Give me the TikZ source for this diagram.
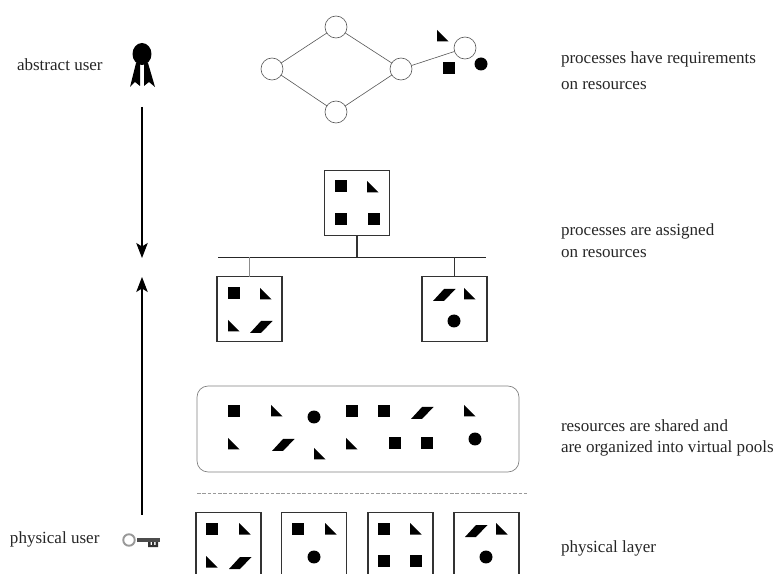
\documentclass[tikz,border=0pt]{standalone}
\usepackage{fontspec}
\usetikzlibrary{arrows.meta}
\setmainfont{Liberation Serif}
\tikzset{
    every node/.style={inner sep=0pt, outer sep=0pt},
    proc/.style={draw=black!65, fill=white, circle, minimum size=0.44cm, line width=0.35pt},
    res/.style={draw=black!80, fill=white, minimum size=1.3cm, line width=0.6pt},
    sq/.style={fill=black, minimum size=0.24cm},
    dot/.style={fill=black, circle, minimum size=0.26cm},
    lbl/.style={anchor=base west, font=\fontsize{9.7}{11}\selectfont, text=black!85},
    bigarrow/.style={-{Stealth[length=0.3cm, width=0.23cm, inset=0.07cm]}, line width=0.6pt},
    tri/.pic={\fill (0,0) -- (0,11.5) -- (11.5,11.5) -- cycle;},
    para/.pic={\fill (0,0) -- (11,-12) -- (22.5,-12) -- (11,0) -- cycle;}
}
\begin{document}
\begin{tikzpicture}[x=0.02cm, y=-0.02cm]
    \path[use as bounding box, clip] (0,0) rectangle (775,574);

    \node (abstract) [lbl] at (17, 71) {abstract user};
    \node (physical) [lbl] at (10, 543) {physical user};
    \node (req1) [lbl] at (561, 64) {processes have requirements};
    \node (req2) [lbl] at (561, 90) {on resources};
    \node (asg1) [lbl] at (561, 236) {processes are assigned};
    \node (asg2) [lbl] at (561, 258) {on resources};
    \node (pool1) [lbl] at (561, 432) {resources are shared and};
    \node (pool2) [lbl] at (561, 453) {are organized into virtual pools};
    \node (layer) [lbl] at (561, 552) {physical layer};

    % ribbon
    \coordinate (medal) at (142, 54);
    \fill (medal) ellipse [x radius=0.19cm, y radius=0.22cm];
    \fill (136,63) -- (130,87) -- (135,82) -- (140,86) -- (140,63) -- cycle;
    \fill (144,63) -- (144,86) -- (149,82) -- (155,87) -- (148,63) -- cycle;

    % key
    \node (ring) [circle, draw=black!40, line width=1.1pt, minimum size=0.23cm] at (129, 540) {};
    \fill[black!70] (137,538) rectangle (160,542);
    \fill[black!80] (148,542) -- (148,547) -- (158,547) -- (158,542) -- (155.5,542) -- (155.5,545)
        -- (154,545) -- (154,542) -- (152,542) -- (152,545) -- (150.5,545) -- (150.5,542) -- cycle;

    \coordinate (dtop) at (142, 107);
    \coordinate (dend) at (142, 258);
    \coordinate (ubot) at (142, 515);
    \coordinate (uend) at (142, 277);
    \draw[bigarrow] (dtop) -- (dend);
    \draw[bigarrow] (ubot) -- (uend);

    % process graph
    \node (pl) [proc] at (272, 69) {};
    \node (pt) [proc] at (336, 27) {};
    \node (pb) [proc] at (336, 112) {};
    \node (pr) [proc] at (401, 69) {};
    \node (pf) [proc] at (465, 48) {};
    \draw[black!65, line width=0.35pt] (pl) edge (pt);
    \draw[black!65, line width=0.35pt] (pl) edge (pb);
    \draw[black!65, line width=0.35pt] (pt) edge (pr);
    \draw[black!65, line width=0.35pt] (pb) edge (pr);
    \draw[black!65, line width=0.35pt] (pr) edge (pf);

    % assignment tree
    \node (rt) [res] at (357, 203) {};
    \node (rl) [res] at (249.5, 309) {};
    \node (rr) [res] at (454.5, 309) {};
    \coordinate (busl) at (218, 257);
    \coordinate (busr) at (486, 257);
    \coordinate (bust) at (rt |- busl);
    \coordinate (busa) at (rl |- busl);
    \coordinate (busb) at (rr |- busl);
    \draw[black!85, line width=0.55pt] (busl) -- (busr);
    \draw[black!80, line width=0.6pt] (rt) -- (bust);
    \draw[black!45, line width=0.5pt] (rl) -- (busa);
    \draw[black!80, line width=0.6pt] (rr) -- (busb);

    % virtual pool
    \node (pool) [draw=black!50, rounded corners=0.22cm, minimum width=6.44cm, minimum height=1.72cm, line width=0.4pt] at (358, 429) {};
    \coordinate (sepl) at (197, 493);
    \coordinate (sepr) at (527, 493);
    \draw[black!40, line width=0.4pt, dash pattern=on 2pt off 1pt] (sepl) -- (sepr);

    % physical machines
    \node (m1) [res] at (228.5, 545) {};
    \node (m2) [res] at (314, 545) {};
    \node (m3) [res] at (400.5, 545) {};
    \node (m4) [res] at (486.5, 545) {};

    \foreach \x/\y [count=\i] in {449/68, 341/186, 341/219, 374/219, 234/293,
        234/411, 352/411, 384/411, 395/443, 427/443,
        212/529, 298/529, 384/529, 384/561, 416/561}
        \node (s\i) [sq] at (\x, \y) {};
    \foreach \x/\y [count=\i] in {481/64, 454/321, 314/417, 475/439, 314/557, 486/557}
        \node (c\i) [dot] at (\x, \y) {};
    \foreach \x/\y in {437/30, 367/181, 260/288, 228/320, 464/288,
        271/405, 464/405, 228/438, 314/448, 346/438,
        239/523, 206/556, 325/523, 410/523, 496/523}
        \pic at (\x, \y) {tri};
    \foreach \x/\y in {250/333, 433/301, 411/419, 272/451, 229/569, 465/537}
        \pic at (\x, \y) {para};
\end{tikzpicture}
\end{document}
